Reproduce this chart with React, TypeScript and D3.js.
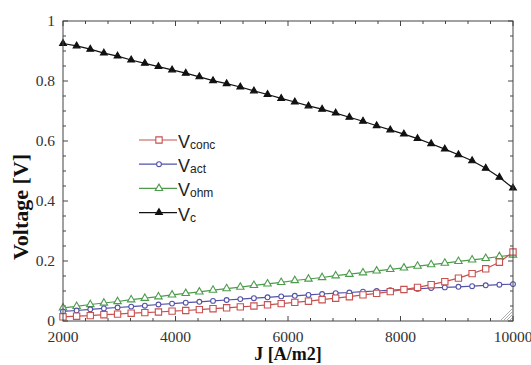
import React from 'react';
import * as d3 from 'd3';

// current density grid (A/m2), 34 points
const J = [
  2000, 2242, 2485, 2727, 2970, 3212, 3455, 3697, 3939, 4182, 4424, 4667,
  4909, 5152, 5394, 5636, 5879, 6121, 6364, 6606, 6848, 7091, 7333, 7576,
  7818, 8061, 8303, 8545, 8788, 9030, 9273, 9515, 9758, 10000
];

const vConc = [
  0.014, 0.016, 0.018, 0.021, 0.023, 0.026, 0.028, 0.030, 0.033, 0.035, 0.038, 0.041,
  0.044, 0.047, 0.050, 0.054, 0.058, 0.062, 0.066, 0.071, 0.076, 0.081, 0.087, 0.092,
  0.098, 0.105, 0.112, 0.121, 0.131, 0.143, 0.158, 0.174, 0.196, 0.230
];

const vAct = [
  0.032, 0.035, 0.039, 0.042, 0.045, 0.048, 0.051, 0.055, 0.058, 0.061, 0.064, 0.067,
  0.070, 0.073, 0.076, 0.079, 0.082, 0.084, 0.087, 0.090, 0.093, 0.095, 0.098, 0.100,
  0.103, 0.105, 0.107, 0.110, 0.112, 0.114, 0.116, 0.119, 0.121, 0.123
];

const vOhm = [
  0.044, 0.049, 0.055, 0.060, 0.065, 0.071, 0.076, 0.081, 0.087, 0.092, 0.097, 0.103,
  0.108, 0.113, 0.119, 0.124, 0.129, 0.135, 0.140, 0.145, 0.151, 0.156, 0.161, 0.167,
  0.172, 0.177, 0.183, 0.188, 0.193, 0.199, 0.204, 0.209, 0.215, 0.220
];

const vCell = [
  0.925, 0.917, 0.906, 0.893, 0.883, 0.870, 0.859, 0.848, 0.837, 0.826, 0.814, 0.801,
  0.791, 0.780, 0.767, 0.755, 0.742, 0.730, 0.717, 0.706, 0.693, 0.679, 0.666, 0.651,
  0.637, 0.623, 0.608, 0.591, 0.573, 0.554, 0.534, 0.509, 0.479, 0.443
];

const xTicks = [2000, 4000, 6000, 8000, 10000];
const yTicks = [0, 0.2, 0.4, 0.6, 0.8, 1];

type Series = { name: string; sub: string; values: number[]; color: string; symbol: d3.SymbolType; size: number; filled: boolean };

const series: Series[] = [
  { name: 'V', sub: 'conc', values: vConc, color: '#c8504f', symbol: d3.symbolSquare, size: 40, filled: false },
  { name: 'V', sub: 'act', values: vAct, color: '#5252a8', symbol: d3.symbolCircle, size: 18, filled: false },
  { name: 'V', sub: 'ohm', values: vOhm, color: '#4c9c4c', symbol: d3.symbolTriangle, size: 24, filled: false },
  { name: 'V', sub: 'c', values: vCell, color: '#111111', symbol: d3.symbolTriangle, size: 20, filled: true }
];

const W = 531;
const H = 365;
const margin = { top: 21, right: 18, bottom: 44, left: 63 };

export default function App() {
  const x = d3.scaleLinear().domain([2000, 10000]).range([margin.left, W - margin.right]);
  const y = d3.scaleLinear().domain([0, 1]).range([H - margin.bottom, margin.top]);
  const x0 = x.range()[0], x1 = x.range()[1];
  const y0 = y.range()[0], y1 = y.range()[1];

  const xMinor = d3.range(2000, 10001, 400);
  const yMinor = d3.range(0, 1.0001, 0.05);

  const drawOrder = [series[3], series[2], series[1], series[0]];
  const serif = '"Liberation Serif", "DejaVu Serif", serif';
  const sans = '"Liberation Sans", Arial, sans-serif';

  return (
    <svg width={W} height={H} style={{ position: 'absolute', left: 0, top: 0, background: '#fff' }}>
      {/* ticks on all four sides, pointing inward */}
      <g stroke="#444" strokeWidth={1}>
        {xMinor.map(t => {
          const major = xTicks.includes(t);
          const len = major ? 5 : 3;
          return (
            <g key={'xt' + t}>
              <line x1={x(t)} x2={x(t)} y1={y0} y2={y0 - len} />
              <line x1={x(t)} x2={x(t)} y1={y1} y2={y1 + len} />
            </g>
          );
        })}
        {yMinor.map((t, i) => {
          const major = i % 4 === 0;
          const len = major ? 5 : 3;
          return (
            <g key={'yt' + i}>
              <line x1={x0} x2={x0 + len} y1={y(t)} y2={y(t)} />
              <line x1={x1} x2={x1 - len} y1={y(t)} y2={y(t)} />
            </g>
          );
        })}
      </g>

      {/* data */}
      {drawOrder.map(s => {
        const line = d3.line<number>().x((d, i) => x(J[i])).y(d => y(d));
        const sym = d3.symbol().type(s.symbol).size(s.size);
        return (
          <g key={s.sub}>
            <path d={line(s.values) || ''} fill="none" stroke={s.color} strokeWidth={1.2} />
            {s.values.map((v, i) => (
              <path key={i} d={sym() || ''} transform={`translate(${x(J[i])},${y(v)})`}
                fill={s.filled ? s.color : '#fff'} stroke={s.color} strokeWidth={1.1} />
            ))}
          </g>
        );
      })}

      {/* frame */}
      <rect x={x0} y={y1} width={x1 - x0} height={y0 - y1} fill="none" stroke="#444" strokeWidth={1} />

      {/* resize grip in the corner */}
      <g stroke="#999" strokeWidth={0.8}>
        {[3, 6, 9, 12].map(d => (
          <line key={d} x1={x1 - d} y1={y0 - 1} x2={x1 - 1} y2={y0 - d} />
        ))}
      </g>

      {/* tick labels */}
      <g fontFamily={serif} fontSize={15.5} fill="#333">
        {xTicks.map(t => (
          <text key={'xl' + t} x={x(t)} y={342} textAnchor="middle">{t}</text>
        ))}
        {yTicks.map(t => (
          <text key={'yl' + t} x={x0 - 8} y={y(t) + 5} textAnchor="end">{t}</text>
        ))}
      </g>

      {/* axis titles */}
      <text x={(x0 + x1) / 2} y={360} textAnchor="middle" fontFamily={serif} fontWeight="bold" fontSize={18} fill="#111">J [A/m2]</text>
      <text transform={`translate(28,${(y0 + y1) / 2 + 36}) rotate(-90)`} textAnchor="middle" fontFamily={serif} fontWeight="bold" fontSize={22} fill="#111">Voltage [V]</text>

      {/* legend */}
      <g fontFamily={sans}>
        {series.map((s, i) => {
          const ly = 140 + i * 24.2;
          const sym = d3.symbol().type(s.symbol).size(s.size);
          return (
            <g key={'lg' + s.sub}>
              <line x1={139} x2={177} y1={ly} y2={ly} stroke={s.color} strokeWidth={1.2} />
              <path d={sym() || ''} transform={`translate(159,${ly})`} fill={s.filled ? s.color : '#fff'} stroke={s.color} strokeWidth={1.1} />
              <text x={178} y={ly + 8} fontSize={18} fill="#222">
                {s.name}
                <tspan fontSize={12} dy={1}>{s.sub}</tspan>
              </text>
            </g>
          );
        })}
      </g>
    </svg>
  );
}
